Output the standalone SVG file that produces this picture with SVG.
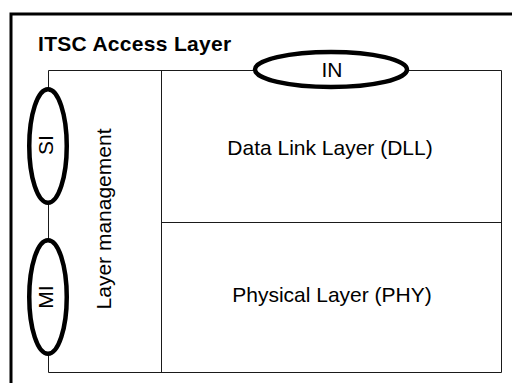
<svg xmlns="http://www.w3.org/2000/svg" width="512" height="383" viewBox="0 0 512 383">
<style>
.t{font-family:"Liberation Sans",Arial,sans-serif;font-size:21px;fill:#000}
.b{font-weight:bold}
.ln{fill:none;stroke:#1a1a1a;stroke-width:1}
.el{fill:#fff;stroke:#000;stroke-width:4.5}
</style>
<rect width="512" height="383" fill="#fff"/>
<g id="frame">
<path d="M11,390 V14 H520" fill="none" stroke="#000" stroke-width="3"/>
<text class="t b" x="38" y="50.5" letter-spacing="0.3">ITSC Access Layer</text>
</g>
<g id="connectors">
<path class="ln" d="M48.5,90 V70.5 H260"/>
<path class="ln" d="M400,70.5 H501.5 V372.5 H48.5 V350"/>
<path class="ln" d="M48.5,200 V242"/>
<path class="ln" d="M161.5,70.5 V372.5"/>
<path class="ln" d="M161.5,222.5 H501.5"/>
</g>
<g id="layer-management">
<text class="t" transform="translate(111,219) rotate(-90)" text-anchor="middle">Layer management</text>
</g>
<g id="dll">
<text class="t" x="330" y="155" text-anchor="middle">Data Link Layer (DLL)</text>
</g>
<g id="phy">
<text class="t" x="332" y="302" text-anchor="middle">Physical Layer (PHY)</text>
</g>
<g id="IN">
<ellipse class="el" cx="331" cy="69.5" rx="76" ry="17.5"/>
<text class="t" x="332" y="77" text-anchor="middle">IN</text>
</g>
<g id="SI">
<ellipse class="el" cx="48" cy="146" rx="18.75" ry="56.75"/>
<text class="t" transform="translate(53,145) rotate(-90)" text-anchor="middle">SI</text>
</g>
<g id="MI">
<ellipse class="el" cx="48" cy="297" rx="18.75" ry="56.75"/>
<text class="t" transform="translate(53,297) rotate(-90)" text-anchor="middle">MI</text>
</g>
</svg>
